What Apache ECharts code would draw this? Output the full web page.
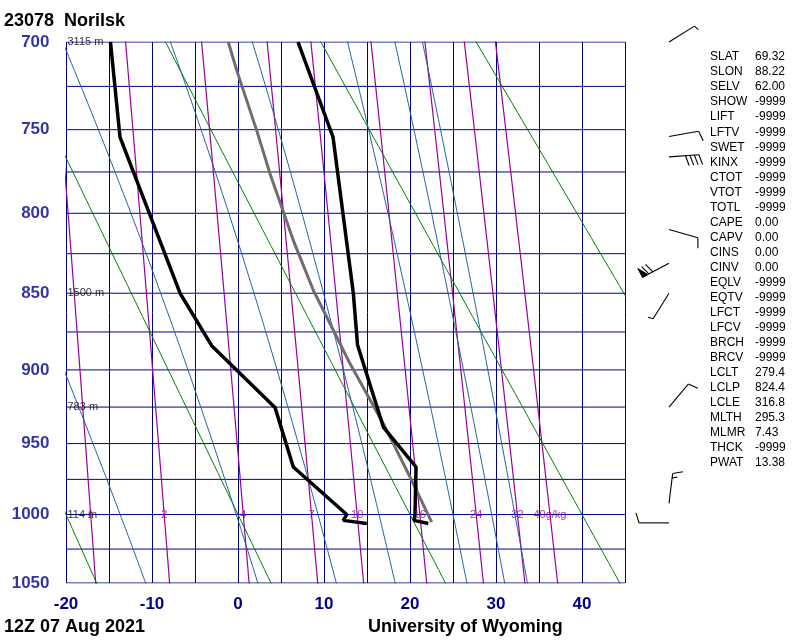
<!DOCTYPE html>
<html>
<head>
<meta charset="utf-8">
<script src="https://cdn.jsdelivr.net/npm/echarts/dist/echarts.min.js"></script>
<style>html,body{margin:0;padding:0;background:#fff}#c{width:800px;height:640px}</style>
</head>
<body>
<div id="c"></div>
<script>
// ---------------- data ----------------
const stationTitle = '23078  Norilsk';
const timeLabel = '12Z 07 Aug 2021';
const sourceLabel = 'University of Wyoming';

const isobarLevels = [700,725,750,775,800,825,850,875,900,925,950,975,1000,1025,1050];
const pressureLabels = [700,750,800,850,900,950,1000,1050];
const tempTicks = [-20,-10,0,10,20,30,40];

const heightLevels = [700,850,925,1000];
const heightLabels = ['3115 m','1500 m','783 m','114 m'];

const tempP = [700,754.4,850,883.5,938.6,966.3,1000,1004.2,1006.5];
const tempT = [6.98,11.05,13.41,13.9,16.9,20.7,20.58,20.47,22.13];

const dewP = [700,754.4,850,884,925.2,966.3,1000,1004.2,1006.5];
const dewT = [-14.83,-13.72,-6.74,-3.06,4.30,6.43,12.64,12.24,14.97];

const parcelP = [700,715.9,750.4,776.0,796.2,816.7,848.1,878.3,895.8,936.3,973.3,1005.4];
const parcelT = [-1.13,-0.15,2.17,3.72,5.08,6.43,8.76,11.48,13.02,16.90,20.0,22.52];

const mixRatios = [1,2,4,7,10,16,24,32,40];
const mixLabels = ['1','2','4','7','10','16','24','32','40g/kg'];
const dryThetaC = [-20,0,20,40,60];
const moistThetaW = [-13.7,-0.2,9.3,16.4,25.0,29.5,32.2];

const windP = [700,754,766,810,831,850,925,992,1006];
const windDir = [58,80,86,106,242,212,40,7,270];
const windKt = [5,10,40,10,70,5,10,15,10];

const statNames = ['SLAT','SLON','SELV','SHOW','LIFT','LFTV','SWET','KINX','CTOT','VTOT','TOTL','CAPE','CAPV','CINS','CINV','EQLV','EQTV','LFCT','LFCV','BRCH','BRCV','LCLT','LCLP','LCLE','MLTH','MLMR','THCK','PWAT'];
const statValues = ['69.32','88.22','62.00','-9999','-9999','-9999','-9999','-9999','-9999','-9999','-9999','0.00','0.00','0.00','0.00','-9999','-9999','-9999','-9999','-9999','-9999','279.4','824.4','316.8','295.3','7.43','-9999','13.38'];

// ---------------- thermodynamics for diagram background ----------------
const KAPPA = 0.286;
function sp(p){ return Math.pow(p, KAPPA); }
function es(tc){ return 6.112*Math.exp(17.67*tc/(tc+243.5)); }
function dewFromMix(w,p){ const e=w*p/(622+w); const l=Math.log(e/6.112); return 243.5*l/(17.67-l); }
const Rd=287.04, Cp=1005.7, Lv=2.501e6, EPS=0.622;
function dTdp(p,T){ const e=es(T-273.15); const rs=EPS*e/(p-e); return (1/p)*(Rd*T+Lv*rs)/(Cp+Lv*Lv*rs*EPS/(Rd*T*T)); }
function moistLine(twc){
  const up=[], down=[];
  const step=2;
  let T=twc+273.15, p=1000;
  while(p>=690){ up.push([T-273.15, sp(p)]);
    const h=-step; const k1=dTdp(p,T), k2=dTdp(p+h/2,T+h/2*k1), k3=dTdp(p+h/2,T+h/2*k2), k4=dTdp(p+h,T+h*k3);
    T+=h/6*(k1+2*k2+2*k3+k4); p+=h; }
  T=twc+273.15; p=1000;
  while(p<=1056){ down.push([T-273.15, sp(p)]);
    const h=step; const k1=dTdp(p,T), k2=dTdp(p+h/2,T+h/2*k1), k3=dTdp(p+h/2,T+h/2*k2), k4=dTdp(p+h,T+h*k3);
    T+=h/6*(k1+2*k2+2*k3+k4); p+=h; }
  return up.reverse().concat(down.slice(1));
}
function range(a,b,st){ const r=[]; for(let v=a; v<=b+1e-9; v+=st) r.push(v); return r; }
const pSteps = range(690,1060,5);

const NAVY='#00008b', GREEN='#008000', PURPLE='#990099', BLUE='#1f5fa0';
const FONT='"Liberation Sans", Arial, Helvetica, sans-serif';

const series=[];
function bgLine(data,color,w,z){ series.push({type:'line',data,showSymbol:false,symbol:'none',silent:true,animation:false,lineStyle:{color,width:w},z:z||1,clip:true}); }

isobarLevels.forEach(p=>bgLine([[-20,sp(p)],[45,sp(p)]],NAVY,1,1));
mixRatios.forEach(w=>bgLine(pSteps.map(p=>[dewFromMix(w,p),sp(p)]),PURPLE,1.2,2));
dryThetaC.forEach(th=>bgLine(pSteps.map(p=>[(th+273.15)*Math.pow(p/1000,KAPPA)-273.15,sp(p)]),GREEN,1,2));
moistThetaW.forEach(tw=>bgLine(moistLine(tw),BLUE,1,2));

series.push({type:'line',data:parcelP.map((p,i)=>[parcelT[i],sp(p)]),showSymbol:false,symbol:'none',silent:true,animation:false,lineStyle:{color:'#6e6e6e',width:3},z:4});
series.push({type:'line',data:dewP.map((p,i)=>[dewT[i],sp(p)]),showSymbol:false,symbol:'none',silent:true,animation:false,lineStyle:{color:'#000',width:3.5},z:5});
series.push({type:'line',data:tempP.map((p,i)=>[tempT[i],sp(p)]),showSymbol:false,symbol:'none',silent:true,animation:false,lineStyle:{color:'#000',width:3.5},z:5});

// pressure labels
series.push({type:'scatter',silent:true,animation:false,symbolSize:1,itemStyle:{color:'rgba(0,0,0,0)'},z:6,
  data:pressureLabels.map(p=>({value:[-20,sp(p)],label:{show:true,formatter:String(p)}})),
  label:{show:true,position:'left',distance:16,color:NAVY,fontWeight:'bold',fontSize:17,fontFamily:FONT}});
// height labels
series.push({type:'scatter',silent:true,animation:false,symbolSize:1,itemStyle:{color:'rgba(0,0,0,0)'},z:6,
  data:heightLevels.map((p,i)=>({value:[-20,sp(p)],label:{show:true,formatter:heightLabels[i]}})),
  label:{show:true,position:'right',distance:1,color:'#000',fontSize:11,fontFamily:FONT}});
// mixing ratio labels
series.push({type:'scatter',silent:true,animation:false,symbolSize:1,itemStyle:{color:'rgba(0,0,0,0)'},z:6,
  data:mixRatios.map((w,i)=>({value:[dewFromMix(w,1000),sp(1000)],label:{show:true,formatter:mixLabels[i]}})),
  label:{show:true,position:'inside',color:PURPLE,fontSize:11,fontFamily:FONT}});

// wind barbs
series.push({type:'custom',silent:true,animation:false,clip:false,z:6,
  data:windP.map((p,i)=>[sp(p),windDir[i],windKt[i]]),
  encode:{y:0},
  renderItem:function(params,api){
    const s=api.value(0), dir=api.value(1), spd=api.value(2);
    const pt=api.coord([45,s]);
    const bx=pt[0]+44, by=pt[1];
    const r=dir*Math.PI/180, ux=Math.sin(r), uy=-Math.cos(r);
    const L=30, tx=bx+L*ux, ty=by+L*uy;
    const vx=-uy, vy=ux;
    const st={stroke:'#000',lineWidth:1.1,fill:null};
    const ch=[{type:'line',shape:{x1:bx,y1:by,x2:tx,y2:ty},style:st}];
    let rem=Math.round(spd/5)*5, pos=0; const gap=4.5, bl=10, sl=0.3;
    while(rem>=50){ const px=tx-pos*gap*ux, py=ty-pos*gap*uy;
      ch.push({type:'polygon',shape:{points:[[px,py],[px+bl*vx,py+bl*vy],[px-gap*1.3*ux,py-gap*1.3*uy]]},style:{fill:'#000',stroke:'#000',lineWidth:1}});
      pos+=1.6; rem-=50; }
    while(rem>=10){ const px=tx-pos*gap*ux, py=ty-pos*gap*uy;
      ch.push({type:'line',shape:{x1:px,y1:py,x2:px+bl*(vx+sl*ux),y2:py+bl*(vy+sl*uy)},style:st});
      pos+=1; rem-=10; }
    if(rem>=5){ const px=tx-pos*gap*ux, py=ty-pos*gap*uy;
      ch.push({type:'line',shape:{x1:px,y1:py,x2:px+bl*0.5*(vx+sl*ux),y2:py+bl*0.5*(vy+sl*uy)},style:st}); }
    return {type:'group',children:ch};
  }});

// text graphics
const graphics=[
  {type:'text',left:4,top:12,style:{text:stationTitle,font:'bold 18px '+FONT,fill:'#000'}},
  {type:'text',left:4,top:618,style:{text:timeLabel,font:'bold 18px '+FONT,fill:'#000'}},
  {type:'text',left:368,top:618,style:{text:sourceLabel,font:'bold 18px '+FONT,fill:'#000'}}
];
statNames.forEach((n,i)=>{
  graphics.push({type:'text',left:710,top:51+i*15.04,style:{text:n,font:'12px '+FONT,fill:'#000'}});
  graphics.push({type:'text',left:755,top:51+i*15.04,style:{text:statValues[i],font:'12px '+FONT,fill:'#000'}});
});

const chart=echarts.init(document.getElementById('c'),null,{renderer:'canvas'});
chart.setOption({
  animation:false,
  backgroundColor:'#fff',
  grid:{left:66,top:42,width:559,height:541,containLabel:false},
  xAxis:{type:'value',min:-20,max:45,interval:5,
    axisLine:{show:false},axisTick:{show:false},
    splitLine:{show:true,lineStyle:{color:NAVY,width:1}},
    axisLabel:{margin:13,color:NAVY,fontWeight:'bold',fontSize:17,fontFamily:FONT,
      formatter:v=>tempTicks.indexOf(v)>=0?String(v):''}},
  yAxis:{type:'value',min:sp(700),max:sp(1050),inverse:true,
    axisLine:{show:false},axisTick:{show:false},axisLabel:{show:false},splitLine:{show:false}},
  series:series,
  graphic:graphics
});
</script>
</body>
</html>
